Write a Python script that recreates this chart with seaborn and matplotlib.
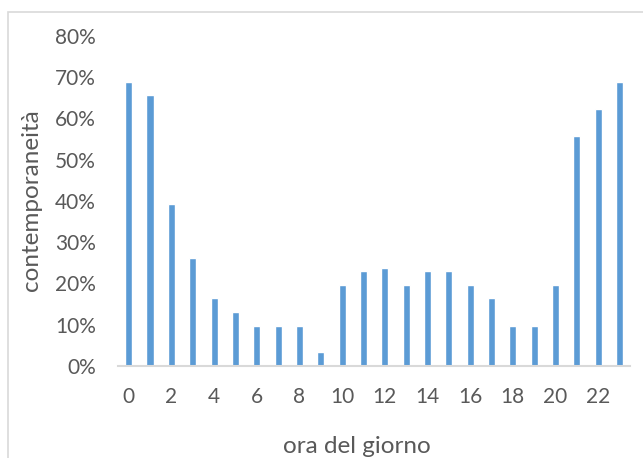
import pandas as pd
import seaborn as sns
import matplotlib.pyplot as plt
from matplotlib.patches import Rectangle
from matplotlib.ticker import PercentFormatter

# dati
ore = list(range(24))
contemporaneita = [0.688, 0.656, 0.393, 0.262, 0.164, 0.131, 0.098, 0.098,
                   0.098, 0.033, 0.197, 0.230, 0.238, 0.197, 0.230, 0.230,
                   0.197, 0.164, 0.098, 0.098, 0.197, 0.557, 0.623, 0.688]
tick_ore = list(range(0, 24, 2))

df = pd.DataFrame({'ora': ore, 'valore': contemporaneita})

sns.set_style('white')
plt.rcParams['font.family'] = ['Lato', 'DejaVu Sans']
grigio = '#595959'

fig = plt.figure(figsize=(6.43, 4.58), dpi=100)
ax = fig.add_axes([0.1835, 0.2009, 0.7966, 0.7205])

sns.barplot(data=df, x='ora', y='valore', color='#5B9BD5', width=0.33,
            saturation=1, ax=ax)

ax.set_xlim(-0.5, 23.5)
ax.set_ylim(0, 0.8)
ax.set_yticks([i / 10 for i in range(9)])
ax.yaxis.set_major_formatter(PercentFormatter(1.0, decimals=0))
ax.set_xticks(tick_ore)
ax.set_xticklabels([str(t) for t in tick_ore])
ax.tick_params(axis='both', length=0, labelsize=15, labelcolor=grigio)
ax.tick_params(axis='y', pad=16)
ax.tick_params(axis='x', pad=15)

for s in ['top', 'right', 'left']:
    ax.spines[s].set_visible(False)
ax.spines['bottom'].set_color('#D9D9D9')
ax.spines['bottom'].set_linewidth(1.5)

ax.set_xlabel('ora del giorno', fontsize=17.5, color=grigio)
ax.set_ylabel('contemporaneità', fontsize=17.5, color=grigio)
ax.xaxis.set_label_coords(0.467, -0.212)
ax.yaxis.set_label_coords(-0.148, 0.503)

# bordo dell'area del grafico (tagliato a destra e in basso)
fig.patches.append(Rectangle((8 / 643, -0.1), 1.1, (458 - 12) / 458 + 0.1,
                             transform=fig.transFigure, fill=False,
                             edgecolor='#D9D9D9', linewidth=1.2))

fig.savefig('out.png', dpi=100)
